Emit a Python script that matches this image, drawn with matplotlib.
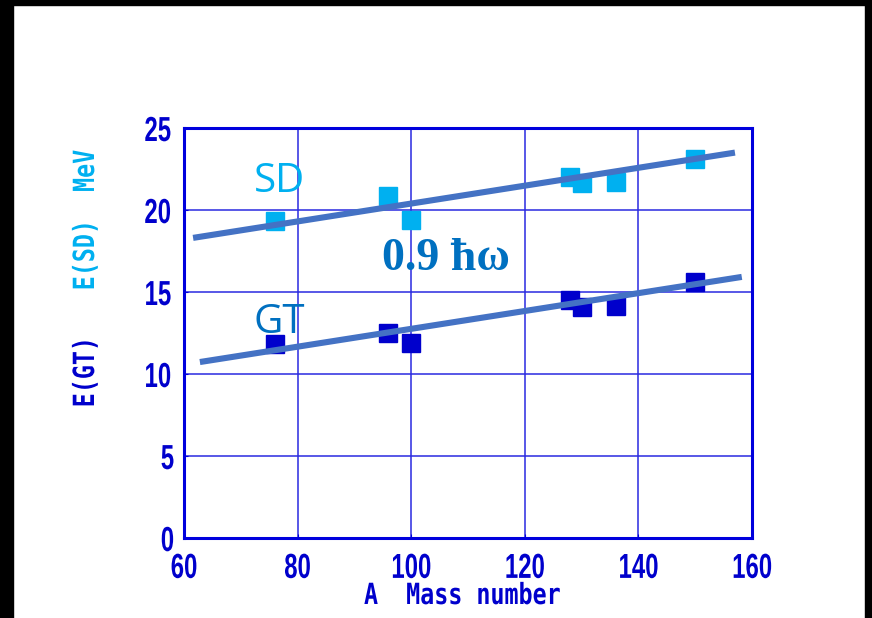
import numpy as np
import matplotlib
matplotlib.use("Agg")
import matplotlib.pyplot as plt
from matplotlib.patches import Rectangle
from matplotlib.patheffects import AbstractPathEffect
from matplotlib.transforms import Affine2D

# mass numbers and excitation energies (MeV)
mass = [76, 96, 100, 128, 130, 136, 150]
e_sd = [19.35, 20.85, 19.4, 22.0, 21.65, 21.7, 23.1]
e_gt = [11.8, 12.5, 11.9, 14.5, 14.1, 14.15, 15.6]

# straight-line fits drawn across the plot
sd_fit_x = [61.6, 157.0]
sd_fit_y = [18.3, 23.5]
gt_fit_x = [62.8, 158.2]
gt_fit_y = [10.73, 15.92]

xticks = [60, 80, 100, 120, 140, 160]
yticks = [0, 5, 10, 15, 20, 25]

tick_blue = "#0000cc"
light = "#00b0f0"
dark = "#0000cc"
mid = "#0070c0"
fit_col = "#4472c4"


class Narrow(AbstractPathEffect):
    """Squeeze glyphs along the text direction (condensed gothic look)."""

    def __init__(self, s):
        super().__init__()
        self.s = s

    def draw_path(self, renderer, gc, tpath, affine, rgbFace=None):
        ext = tpath.get_extents()
        cx = ext.x0 + ext.width / 2
        squeeze = Affine2D().translate(-cx, 0).scale(self.s, 1).translate(cx, 0)
        renderer.draw_path(gc, tpath, squeeze + affine, rgbFace)


fig = plt.figure(figsize=(8.72, 6.18), dpi=100)
ax = fig.add_axes([184 / 872, 80 / 618, 568 / 872, 410 / 618])

ax.set_xlim(60, 160)
ax.set_ylim(0, 25)
ax.set_xticks(xticks)
ax.set_yticks(yticks)
ax.grid(True, color="#2a2ae0", lw=1.1)
ax.set_axisbelow(True)
for s in ax.spines.values():
    s.set_color("#0000dd")
    s.set_linewidth(2.2)
ax.tick_params(direction="in", length=3, color="#0000dd", labelcolor=tick_blue,
               labelsize=25)
ax.tick_params(axis="x", pad=10)
ax.tick_params(axis="y", pad=5)
for lab in ax.get_xticklabels() + ax.get_yticklabels():
    lab.set_family("Liberation Sans")
    lab.set_fontweight("bold")
    lab.set_path_effects([Narrow(0.69)])

ax.plot(mass, e_sd, "s", color=light, markersize=12.5, zorder=3)
ax.plot(mass, e_gt, "s", color=dark, markersize=12.5, zorder=3)
ax.plot(sd_fit_x, sd_fit_y, color=fit_col, lw=4.4, solid_capstyle="butt", zorder=4)
ax.plot(gt_fit_x, gt_fit_y, color=fit_col, lw=4.4, solid_capstyle="butt", zorder=4)

ax.text(72.3, 21.75, "SD", color=light, fontsize=29, family="Open Sans",
        va="center", ha="left", zorder=5)
ax.text(72.3, 13.15, "GT", color=mid, fontsize=29, family="Open Sans",
        va="center", ha="left", zorder=5)
ax.text(94.8, 17.0, "0.9 ħω", color=mid, fontsize=33, family="Liberation Serif",
        fontweight="bold", va="center", ha="left", zorder=5)

mono = dict(color=tick_blue, fontsize=21, family="DejaVu Sans Mono",
            fontweight="bold", ha="center", va="center",
            path_effects=[Narrow(0.8)])
fig.text(462 / 872, 1 - 596 / 618, "A  Mass number", **mono)
fig.text(86 / 872, 1 - 372 / 618, "E(GT)", rotation=90, **mono)
mono["color"] = light
fig.text(86 / 872, 1 - 255 / 618, "E(SD)", rotation=90, **mono)
fig.text(86 / 872, 1 - 171 / 618, "MeV", rotation=90, **mono)

# black frame strips on top, left and right
for x0, y0, w, h in [(0, 613, 872, 5), (0, 0, 13, 618), (865, 0, 7, 618)]:
    fig.patches.append(Rectangle((x0 / 872, y0 / 618), w / 872, h / 618,
                                 transform=fig.transFigure, color="black", zorder=10))

fig.savefig("out.png", dpi=100)
